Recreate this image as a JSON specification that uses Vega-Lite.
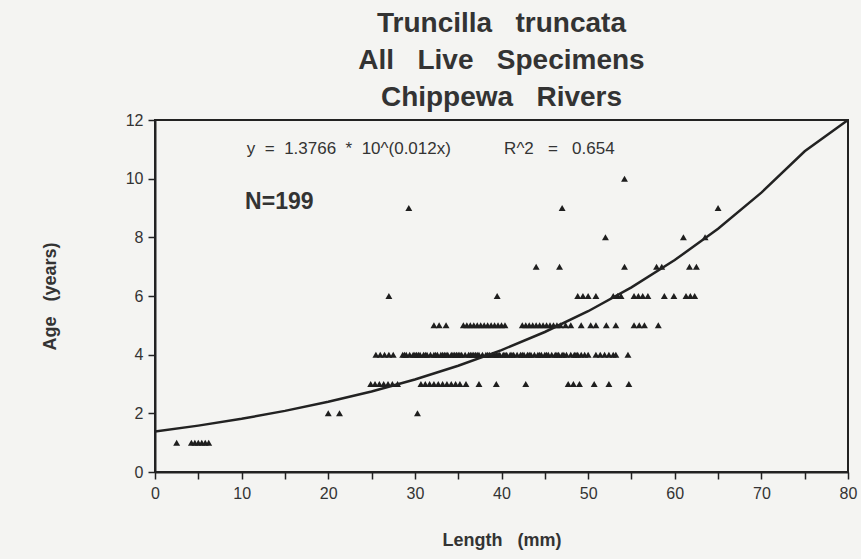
{
  "$schema": "https://vega.github.io/schema/vega-lite/v6.json",
  "width": 693,
  "height": 352,
  "autosize": {"type": "none"},
  "padding": {"left": 155, "top": 120, "right": 13, "bottom": 87},
  "background": "#f4f4f2",
  "config": {
    "font": "Liberation Sans",
    "view": {"stroke": "#222", "strokeWidth": 2},
    "axis": {"domainColor": "#222", "domainWidth": 2, "tickColor": "#222", "tickWidth": 1.5, "grid": false, "labelColor": "#333", "titleColor": "#333"}
  },
  "title": {
    "text": ["Truncilla\u00a0\u00a0 truncata", "All\u00a0\u00a0 Live\u00a0\u00a0 Specimens", "Chippewa\u00a0\u00a0 Rivers"],
    "anchor": "middle",
    "fontSize": 28,
    "fontWeight": "bold",
    "lineHeight": 37,
    "color": "#333",
    "offset": 0
  },
  "datasets": {
    "pts": [
      {"len": 2.5, "age": 1}, {"len": 4.2, "age": 1}, {"len": 4.6, "age": 1}, {"len": 5.0, "age": 1}, {"len": 5.4, "age": 1}, {"len": 5.8, "age": 1}, {"len": 6.2, "age": 1},
      {"len": 20.0, "age": 2}, {"len": 21.3, "age": 2}, {"len": 30.3, "age": 2},
      {"len": 24.9, "age": 3}, {"len": 25.4, "age": 3}, {"len": 25.9, "age": 3}, {"len": 26.4, "age": 3}, {"len": 26.9, "age": 3}, {"len": 27.4, "age": 3}, {"len": 28.0, "age": 3},
      {"len": 30.7, "age": 3}, {"len": 31.2, "age": 3}, {"len": 31.7, "age": 3}, {"len": 32.2, "age": 3}, {"len": 32.7, "age": 3}, {"len": 33.2, "age": 3}, {"len": 33.7, "age": 3}, {"len": 34.2, "age": 3}, {"len": 34.7, "age": 3}, {"len": 35.2, "age": 3}, {"len": 35.9, "age": 3},
      {"len": 37.4, "age": 3}, {"len": 39.4, "age": 3}, {"len": 42.8, "age": 3}, {"len": 47.7, "age": 3}, {"len": 48.3, "age": 3}, {"len": 49.0, "age": 3}, {"len": 50.7, "age": 3}, {"len": 52.4, "age": 3}, {"len": 54.7, "age": 3},
      {"len": 25.5, "age": 4}, {"len": 26.0, "age": 4}, {"len": 26.5, "age": 4}, {"len": 27.0, "age": 4}, {"len": 27.5, "age": 4}, {"len": 28.6, "age": 4}, {"len": 29.0, "age": 4}, {"len": 29.4, "age": 4}, {"len": 29.8, "age": 4}, {"len": 30.2, "age": 4},
      {"len": 30.6, "age": 4}, {"len": 31.0, "age": 4}, {"len": 31.4, "age": 4}, {"len": 31.8, "age": 4}, {"len": 32.2, "age": 4}, {"len": 32.6, "age": 4}, {"len": 33.0, "age": 4}, {"len": 33.4, "age": 4}, {"len": 33.8, "age": 4}, {"len": 34.2, "age": 4},
      {"len": 34.6, "age": 4}, {"len": 35.0, "age": 4}, {"len": 35.4, "age": 4}, {"len": 35.8, "age": 4}, {"len": 36.2, "age": 4}, {"len": 36.6, "age": 4}, {"len": 37.0, "age": 4}, {"len": 37.4, "age": 4}, {"len": 37.8, "age": 4}, {"len": 38.2, "age": 4},
      {"len": 38.6, "age": 4}, {"len": 39.0, "age": 4}, {"len": 39.4, "age": 4}, {"len": 39.8, "age": 4}, {"len": 40.2, "age": 4}, {"len": 40.6, "age": 4}, {"len": 41.0, "age": 4}, {"len": 41.4, "age": 4}, {"len": 41.8, "age": 4}, {"len": 42.2, "age": 4},
      {"len": 42.6, "age": 4}, {"len": 43.0, "age": 4}, {"len": 43.4, "age": 4}, {"len": 43.8, "age": 4}, {"len": 44.2, "age": 4}, {"len": 44.6, "age": 4}, {"len": 45.0, "age": 4}, {"len": 45.4, "age": 4}, {"len": 45.8, "age": 4}, {"len": 46.2, "age": 4},
      {"len": 46.6, "age": 4}, {"len": 47.0, "age": 4}, {"len": 47.5, "age": 4}, {"len": 48.0, "age": 4}, {"len": 48.4, "age": 4}, {"len": 48.8, "age": 4}, {"len": 49.2, "age": 4}, {"len": 49.6, "age": 4}, {"len": 50.0, "age": 4}, {"len": 50.9, "age": 4},
      {"len": 51.4, "age": 4}, {"len": 51.9, "age": 4}, {"len": 52.4, "age": 4}, {"len": 52.9, "age": 4}, {"len": 53.2, "age": 4}, {"len": 54.6, "age": 4},
      {"len": 28.8, "age": 4}, {"len": 30.4, "age": 4}, {"len": 31.2, "age": 4}, {"len": 32.4, "age": 4}, {"len": 33.2, "age": 4}, {"len": 34.4, "age": 4}, {"len": 35.2, "age": 4}, {"len": 36.4, "age": 4}, {"len": 37.2, "age": 4}, {"len": 38.4, "age": 4},
      {"len": 39.2, "age": 4}, {"len": 40.4, "age": 4}, {"len": 41.2, "age": 4}, {"len": 42.4, "age": 4}, {"len": 43.2, "age": 4}, {"len": 44.4, "age": 4}, {"len": 45.2, "age": 4}, {"len": 46.4, "age": 4}, {"len": 47.2, "age": 4}, {"len": 48.6, "age": 4},
      {"len": 30.0, "age": 4}, {"len": 33.6, "age": 4}, {"len": 36.8, "age": 4}, {"len": 39.6, "age": 4}, {"len": 34.8, "age": 4},
      {"len": 32.2, "age": 5}, {"len": 32.8, "age": 5}, {"len": 33.6, "age": 5}, {"len": 35.6, "age": 5}, {"len": 36.0, "age": 5}, {"len": 36.4, "age": 5}, {"len": 36.8, "age": 5}, {"len": 37.2, "age": 5}, {"len": 37.6, "age": 5}, {"len": 38.0, "age": 5},
      {"len": 38.4, "age": 5}, {"len": 38.8, "age": 5}, {"len": 39.2, "age": 5}, {"len": 39.6, "age": 5}, {"len": 40.0, "age": 5}, {"len": 40.4, "age": 5}, {"len": 42.4, "age": 5}, {"len": 42.8, "age": 5}, {"len": 43.2, "age": 5}, {"len": 43.6, "age": 5},
      {"len": 44.0, "age": 5}, {"len": 44.4, "age": 5}, {"len": 44.8, "age": 5}, {"len": 45.2, "age": 5}, {"len": 45.6, "age": 5}, {"len": 46.0, "age": 5}, {"len": 46.4, "age": 5}, {"len": 46.8, "age": 5}, {"len": 47.4, "age": 5}, {"len": 48.0, "age": 5},
      {"len": 49.2, "age": 5}, {"len": 50.3, "age": 5}, {"len": 50.9, "age": 5}, {"len": 52.1, "age": 5}, {"len": 53.2, "age": 5}, {"len": 55.3, "age": 5}, {"len": 55.9, "age": 5}, {"len": 56.5, "age": 5}, {"len": 58.1, "age": 5},
      {"len": 27.0, "age": 6}, {"len": 39.5, "age": 6}, {"len": 48.8, "age": 6}, {"len": 49.4, "age": 6}, {"len": 50.0, "age": 6}, {"len": 50.9, "age": 6}, {"len": 52.9, "age": 6}, {"len": 53.4, "age": 6}, {"len": 53.8, "age": 6},
      {"len": 55.3, "age": 6}, {"len": 55.8, "age": 6}, {"len": 56.3, "age": 6}, {"len": 56.9, "age": 6}, {"len": 58.8, "age": 6}, {"len": 59.9, "age": 6}, {"len": 61.3, "age": 6}, {"len": 61.8, "age": 6}, {"len": 62.3, "age": 6},
      {"len": 44.0, "age": 7}, {"len": 46.7, "age": 7}, {"len": 54.2, "age": 7}, {"len": 57.9, "age": 7}, {"len": 58.5, "age": 7}, {"len": 61.7, "age": 7}, {"len": 62.5, "age": 7},
      {"len": 52.0, "age": 8}, {"len": 61.0, "age": 8}, {"len": 63.5, "age": 8},
      {"len": 29.3, "age": 9}, {"len": 47.0, "age": 9}, {"len": 65.0, "age": 9},
      {"len": 54.2, "age": 10}
    ],
    "fit": [
      {"cx": 0, "cy": 1.3766}, {"cx": 5, "cy": 1.5806}, {"cx": 10, "cy": 1.8148}, {"cx": 15, "cy": 2.0836}, {"cx": 20, "cy": 2.3923},
      {"cx": 25, "cy": 2.7467}, {"cx": 30, "cy": 3.1536}, {"cx": 35, "cy": 3.6209}, {"cx": 40, "cy": 4.1573}, {"cx": 45, "cy": 4.7732},
      {"cx": 50, "cy": 5.4803}, {"cx": 55, "cy": 6.2923}, {"cx": 60, "cy": 7.2245}, {"cx": 65, "cy": 8.2949}, {"cx": 70, "cy": 9.5237},
      {"cx": 75, "cy": 10.935}, {"cx": 80, "cy": 12.0}
    ],
    "eqs": [
      {"tx": 10.6, "ty": 11.0, "label": "y\u00a0 =\u00a0 1.3766\u00a0 *\u00a0 10^(0.012x)"},
      {"tx": 40.3, "ty": 11.0, "label": "R^2\u00a0\u00a0 =\u00a0\u00a0 0.654"}
    ],
    "nlab": [
      {"tx": 10.4, "ty": 9.2, "label": "N=199"}
    ]
  },
  "layer": [
    {
      "data": {"name": "pts"},
      "mark": {"type": "point", "shape": "triangle-up", "filled": true, "color": "#1e1e1e", "size": 48, "opacity": 1},
      "encoding": {
        "x": {
          "field": "len", "type": "quantitative",
          "scale": {"domain": [0, 80], "nice": false, "zero": false},
          "axis": {
            "title": "Length\u00a0\u00a0 (mm)", "titleFontSize": 18, "titleFontWeight": "bold", "titlePadding": 30,
            "values": [0, 5, 10, 15, 20, 25, 30, 35, 40, 45, 50, 55, 60, 65, 70, 75, 80],
            "labelExpr": "datum.value % 10 == 0 ? datum.label : ''",
            "labelFontSize": 16, "labelPadding": 6, "tickSize": 7, "labelFlush": false
          }
        },
        "y": {
          "field": "age", "type": "quantitative",
          "scale": {"domain": [0, 12], "nice": false, "zero": false},
          "axis": {
            "title": "Age\u00a0\u00a0 (years)", "titleFontSize": 18, "titleFontWeight": "bold", "titleX": -96,
            "values": [0, 1, 2, 3, 4, 5, 6, 7, 8, 9, 10, 11, 12],
            "labelExpr": "datum.value % 2 == 0 ? datum.label : ''",
            "labelFontSize": 16, "labelPadding": 5, "tickSize": 7
          }
        }
      }
    },
    {
      "data": {"name": "fit"},
      "mark": {"type": "line", "color": "#222", "strokeWidth": 2.5, "clip": true},
      "encoding": {
        "x": {"field": "cx", "type": "quantitative"},
        "y": {"field": "cy", "type": "quantitative"}
      }
    },
    {
      "data": {"name": "eqs"},
      "mark": {"type": "text", "align": "left", "baseline": "middle", "color": "#333", "fontSize": 17},
      "encoding": {
        "x": {"field": "tx", "type": "quantitative"},
        "y": {"field": "ty", "type": "quantitative"},
        "text": {"field": "label"}
      }
    },
    {
      "data": {"name": "nlab"},
      "mark": {"type": "text", "align": "left", "baseline": "middle", "color": "#333", "fontSize": 23, "fontWeight": "bold"},
      "encoding": {
        "x": {"field": "tx", "type": "quantitative"},
        "y": {"field": "ty", "type": "quantitative"},
        "text": {"field": "label"}
      }
    }
  ]
}
